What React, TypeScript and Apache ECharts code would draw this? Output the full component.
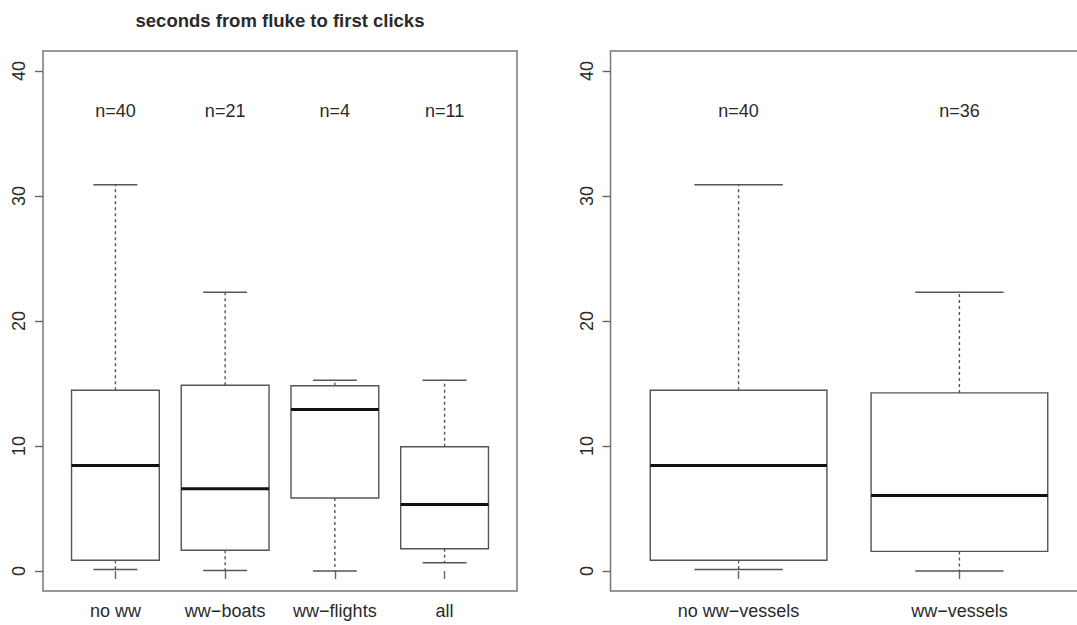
import React, { useEffect, useRef } from "react";
import * as echarts from "echarts";

// ---- data ----
const titleText = "seconds from fluke to first clicks";

const leftCategories = ["no ww", "ww\u2212boats", "ww\u2212flights", "all"];
const leftN = [40, 21, 4, 11];
const leftLow = [0.12, 0.04, 0.0, 0.66];
const leftQ1 = [0.86, 1.66, 5.84, 1.78];
const leftMedian = [8.44, 6.58, 12.92, 5.32];
const leftQ3 = [14.46, 14.86, 14.82, 9.94];
const leftHigh = [30.9, 22.3, 15.26, 15.26];

const rightCategories = ["no ww\u2212vessels", "ww\u2212vessels"];
const rightN = [40, 36];
const rightLow = [0.12, 0.0];
const rightQ1 = [0.86, 1.57];
const rightMedian = [8.44, 6.05];
const rightQ3 = [14.46, 14.25];
const rightHigh = [30.9, 22.3];

const yTicks = [0, 10, 20, 30, 40];
const nLabelY = 36.8;

const FONT = "'Liberation Sans', Arial, Helvetica, sans-serif";
const TEXT_COLOR = "#2a2a2a";
const LINE_COLOR = "#555";

function buildItems(low: number[], q1: number[], med: number[], q3: number[], high: number[]) {
  return low.map((v, i) => [i + 1, v, q1[i], med[i], q3[i], high[i]]);
}

function makeRender(nCounts: number[]) {
  return (params: any, api: any) => {
    const x = api.value(0);
    const lo = api.value(1);
    const q1 = api.value(2);
    const md = api.value(3);
    const q3 = api.value(4);
    const hi = api.value(5);
    const pLo = api.coord([x, lo]);
    const pQ1 = api.coord([x, q1]);
    const pMd = api.coord([x, md]);
    const pQ3 = api.coord([x, q3]);
    const pHi = api.coord([x, hi]);
    const pN = api.coord([x, nLabelY]);
    const cx = pMd[0];
    const hb = api.size([0.4, 0])[0];
    const hc = api.size([0.2, 0])[0];
    const solid = { stroke: LINE_COLOR, lineWidth: 1.4 };
    const dashed = { stroke: LINE_COLOR, lineWidth: 1.4, lineDash: [3, 3] };
    return {
      type: "group",
      children: [
        { type: "line", shape: { x1: cx, y1: pQ3[1], x2: cx, y2: pHi[1] }, style: dashed },
        { type: "line", shape: { x1: cx, y1: pQ1[1], x2: cx, y2: pLo[1] }, style: dashed },
        { type: "line", shape: { x1: cx - hc, y1: pHi[1], x2: cx + hc, y2: pHi[1] }, style: solid },
        { type: "line", shape: { x1: cx - hc, y1: pLo[1], x2: cx + hc, y2: pLo[1] }, style: solid },
        {
          type: "rect",
          shape: { x: cx - hb, y: pQ3[1], width: 2 * hb, height: pQ1[1] - pQ3[1] },
          style: { fill: "none", stroke: LINE_COLOR, lineWidth: 1.4 },
        },
        { type: "line", shape: { x1: cx - hb, y1: pMd[1], x2: cx + hb, y2: pMd[1] }, style: { stroke: "#111", lineWidth: 3 } },
        {
          type: "text",
          x: pN[0],
          y: pN[1],
          style: {
            text: "n=" + nCounts[params.dataIndex],
            align: "center",
            verticalAlign: "middle",
            fontSize: 18,
            fontFamily: FONT,
            fill: TEXT_COLOR,
          },
        },
      ],
    };
  };
}

function xAxisFor(gridIndex: number, cats: string[]) {
  const ticks = cats.map((_, i) => i + 1);
  const n = cats.length;
  return {
    gridIndex,
    type: "value",
    min: 0.5 - 0.04 * n,
    max: n + 0.5 + 0.04 * n,
    axisLine: { show: false },
    splitLine: { show: false },
    axisTick: { show: true, customValues: ticks, length: 8, lineStyle: { color: "#666", width: 1.4 } },
    axisLabel: {
      show: true,
      customValues: ticks,
      formatter: (v: number) => cats[Math.round(v) - 1] || "",
      fontSize: 18,
      fontFamily: FONT,
      color: TEXT_COLOR,
      margin: 11,
    },
  };
}

function yAxisFor(gridIndex: number) {
  return {
    gridIndex,
    type: "value",
    min: -1.6,
    max: 41.6,
    axisLine: { show: false },
    splitLine: { show: false },
    axisTick: { show: true, customValues: yTicks, length: 8, lineStyle: { color: "#666", width: 1.4 } },
    axisLabel: {
      show: true,
      customValues: yTicks,
      rotate: 90,
      fontSize: 18,
      fontFamily: FONT,
      color: TEXT_COLOR,
      margin: 15,
    },
  };
}

export default function App() {
  const ref = useRef<HTMLDivElement>(null);
  useEffect(() => {
    if (!ref.current) return;
    const chart = echarts.init(ref.current, null, { renderer: "svg" });
    chart.setOption({
      animation: false,
      backgroundColor: "#fff",
      title: {
        text: titleText,
        left: 280,
        top: 11,
        padding: 0,
        textAlign: "center",
        textStyle: { fontSize: 18.5, fontWeight: "bold", fontFamily: FONT, color: TEXT_COLOR },
      },
      grid: [
        { left: 43, top: 51, width: 474, height: 540, show: true, borderColor: "#777", borderWidth: 1.5, backgroundColor: "transparent" },
        { left: 610.5, top: 51, width: 477, height: 540, show: true, borderColor: "#777", borderWidth: 1.5, backgroundColor: "transparent" },
      ],
      xAxis: [xAxisFor(0, leftCategories), xAxisFor(1, rightCategories)],
      yAxis: [yAxisFor(0), yAxisFor(1)],
      series: [
        {
          type: "custom",
          xAxisIndex: 0,
          yAxisIndex: 0,
          renderItem: makeRender(leftN),
          encode: { x: 0, y: [1, 2, 3, 4, 5] },
          data: buildItems(leftLow, leftQ1, leftMedian, leftQ3, leftHigh),
          clip: false,
        },
        {
          type: "custom",
          xAxisIndex: 1,
          yAxisIndex: 1,
          renderItem: makeRender(rightN),
          encode: { x: 0, y: [1, 2, 3, 4, 5] },
          data: buildItems(rightLow, rightQ1, rightMedian, rightQ3, rightHigh),
          clip: false,
        },
      ],
    });
    return () => chart.dispose();
  }, []);
  return (
    <div style={{ position: "absolute", left: 0, top: 0, width: 1077, height: 625, overflow: "hidden", background: "#fff" }}>
      <div ref={ref} style={{ position: "absolute", left: 0, top: 0, width: 1100, height: 625 }} />
    </div>
  );
}
